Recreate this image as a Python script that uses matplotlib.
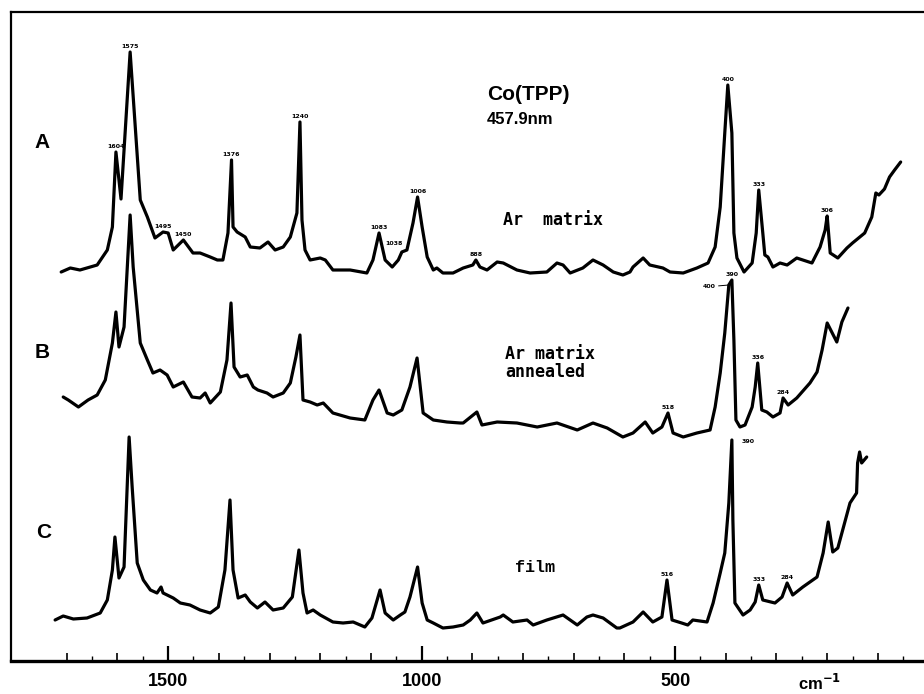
import numpy as np
import matplotlib.pyplot as plt

# --- spectrum A : Ar matrix ---
wn_a = [1711, 1693, 1674, 1640, 1620, 1610, 1603, 1593, 1575, 1555, 1541, 1526, 1510,
        1500, 1490, 1470, 1451, 1437, 1417, 1403, 1392, 1382, 1375, 1372, 1364, 1348,
        1338, 1319, 1303, 1289, 1273, 1259, 1246, 1240, 1236, 1230, 1220, 1200, 1190,
        1175, 1141, 1108, 1096, 1084, 1072, 1058, 1046, 1039, 1029, 1017, 1008, 999,
        989, 977, 970, 958, 938, 918, 899, 893, 885, 871, 851, 839, 812, 786, 753, 733,
        721, 707, 682, 662, 642, 622, 603, 589, 583, 563, 550, 524, 510, 484, 457, 435,
        421, 411, 402, 396, 388, 384, 378, 364, 348, 340, 335, 327, 323, 317, 307, 293,
        279, 260, 248, 230, 214, 204, 200, 194, 179, 161, 150, 126, 112, 104, 98, 87,
        77, 67, 55]
int_a = [389, 393, 391, 396, 411, 434, 509, 462, 609, 461, 444, 423, 429,
         428, 411, 421, 408, 408, 404, 401, 401, 428, 501, 434, 429, 424,
         414, 413, 419, 411, 414, 424, 448, 539, 441, 411, 401, 403, 401,
         391, 391, 388, 401, 428, 401, 394, 401, 409, 411, 438, 464, 434,
         404, 391, 393, 388, 388, 393, 396, 401, 394, 391, 399, 398, 391, 388, 389, 398,
         396, 388, 393, 401, 396, 389, 386, 389, 394, 403, 396, 393, 389, 388, 393, 398,
         414, 454, 528, 576, 528, 428, 403, 389, 398, 428, 471, 428, 406, 404, 394, 398,
         396, 403, 401, 398, 414, 431, 445, 408, 403, 413, 418, 428, 444, 468, 466, 472,
         484, 491, 499]

# --- spectrum B : Ar matrix annealed ---
wn_b = [1707, 1697, 1677, 1658, 1640, 1624, 1610, 1603, 1597, 1587, 1575, 1569, 1555,
        1541, 1530, 1516, 1502, 1490, 1470, 1453, 1437, 1427, 1417, 1397, 1384, 1376,
        1370, 1358, 1344, 1332, 1323, 1305, 1293, 1273, 1259, 1248, 1240, 1234, 1220,
        1206, 1194, 1175, 1141, 1112, 1096, 1084, 1068, 1056, 1039, 1023, 1009, 997,
        977, 950, 924, 918, 891, 881, 851, 812, 772, 733, 693, 662, 634, 603, 583, 559,
        544, 526, 514, 504, 484, 457, 431, 421, 411, 402, 394, 388, 384, 380, 372, 362,
        348, 342, 337, 329, 319, 307, 293, 287, 277, 260, 234, 220, 210, 200, 181, 171,
        159]
int_b = [264, 261, 254, 261, 266, 281, 318, 349, 314, 334, 446, 394, 318,
         301, 288, 291, 286, 274, 279, 264, 263, 268, 258, 269, 301, 358,
         294, 284, 286, 274, 271, 268, 264, 268, 278, 304, 326, 261, 259,
         256, 258, 248, 243, 241, 261, 271, 248, 246, 251, 274, 303, 248,
         241, 239, 238, 238, 249, 236, 239, 238, 234, 238, 231, 238, 233, 224, 228, 239,
         228, 234, 248, 228, 224, 228, 231, 254, 288, 328, 376, 381, 321, 241, 234, 236,
         254, 274, 298, 251, 249, 244, 248, 263, 256, 263, 278, 289, 311, 338, 319, 339,
         353]

# --- spectrum C : film ---
wn_c = [1723, 1707, 1687, 1660, 1634, 1620, 1610, 1605, 1597, 1587, 1577, 1571, 1561,
        1549, 1535, 1522, 1514, 1510, 1490, 1476, 1457, 1437, 1417, 1401, 1388, 1378,
        1372, 1362, 1348, 1338, 1324, 1309, 1293, 1273, 1255, 1242, 1234, 1226, 1214,
        1200, 1175, 1155, 1135, 1112, 1098, 1082, 1072, 1056, 1042, 1033, 1023, 1008,
        999, 989, 977, 958, 938, 918, 904, 891, 879, 845, 839, 820, 792, 780, 753, 721,
        693, 674, 662, 642, 615, 609, 583, 563, 544, 526, 516, 506, 487, 475, 465, 437,
        425, 411, 402, 394, 388, 386, 382, 366, 352, 342, 335, 327, 303, 289, 279, 268,
        248, 220, 208, 198, 189, 179, 155, 142, 140, 136, 132, 122]
int_c = [41, 45, 42, 43, 48, 61, 91, 124, 83, 94, 224, 174, 98,
         81, 71, 68, 74, 68, 63, 58, 56, 51, 48, 54, 91, 161,
         91, 63, 66, 59, 53, 59, 51, 53, 64, 111, 68, 48, 51,
         46, 39, 38, 39, 34, 43, 71, 48, 41, 46, 49, 64, 94,
         58, 41, 38, 33, 34, 36, 41, 48, 38, 44, 46, 39, 41, 36, 41, 46,
         36, 44, 46, 43, 33, 33, 39, 49, 39, 44, 81, 41, 38, 36, 41, 39,
         58, 88, 108, 158, 221, 141, 58, 46, 51, 59, 76, 61, 58, 64, 78, 66,
         74, 84, 108, 139, 109, 113, 158, 168, 198, 209, 198, 204]

# peak labels (text, wavenumber of the peak)
peaks_a = [('1604', 1603), ('1575', 1575), ('1495', 1510), ('1450', 1470), ('1376', 1375),
           ('1240', 1240), ('1083', 1084), ('1006', 1008), ('888', 893), ('400', 396),
           ('333', 335), ('306', 200)]
peaks_b = [('518', 514), ('390', 388), ('336', 337), ('284', 287)]
peaks_c = [('516', 516), ('333', 335), ('284', 279)]

fig = plt.figure(figsize=(9.24, 6.94), dpi=100)
ax = fig.add_axes([11 / 924, 33 / 694, 913 / 924, 649 / 694])

for wn, it in [(wn_a, int_a), (wn_b, int_b), (wn_c, int_c)]:
    ax.plot(wn, it, color='black', lw=2.3, solid_joinstyle='round', solid_capstyle='round')

def peak_y(wn, it, x):
    return np.interp(x, wn[::-1], it[::-1])

lab_font = dict(fontsize=4.5, fontweight='bold', ha='center', va='bottom', family='DejaVu Sans')
for peaks, wn, it in [(peaks_a, wn_a, int_a), (peaks_b, wn_b, int_b), (peaks_c, wn_c, int_c)]:
    for txt, x in peaks:
        ax.annotate(txt, (x, peak_y(wn, it, x)), xytext=(0, 2.5), textcoords='offset points', **lab_font)
# extra labels placed beside their peaks
ax.annotate('1038', (1039, 409), xytext=(-6, 4), textcoords='offset points', **lab_font)
ax.annotate('400', (394, 376), xytext=(-14, -3), textcoords='offset points',
            arrowprops=dict(arrowstyle='-', lw=0.7, color='black', shrinkA=0, shrinkB=0), **lab_font)
ax.annotate('390', (388, 221), xytext=(12, -3), textcoords='offset points', **lab_font)

ax.set_xlim(1810, 9)
ax.set_ylim(0, 649)

# spectrum letters and sample descriptions
big = dict(fontsize=15, fontweight='bold', family='Liberation Sans', ha='center', va='center')
ax.text(1748, 519, 'A', **big)
ax.text(1748, 309, 'B', **big)
ax.text(1746, 129, 'C', **big)
ax.text(871, 566, 'Co(TPP)', fontsize=15, fontweight='bold', family='Liberation Sans',
        ha='left', va='center')
ax.text(871, 541, '457.9nm', fontsize=12, fontweight='bold', family='Liberation Sans',
        ha='left', va='center')
mono = dict(fontsize=12, fontweight='bold', family='DejaVu Sans Mono', ha='left', va='center')
ax.text(839, 441, 'Ar  matrix', **mono)
ax.text(835, 298, 'Ar matrix\nannealed', linespacing=1.0, **mono)
ax.text(816, 94, 'film', fontsize=12, fontweight='bold', family='Liberation Mono', ha='left', va='center')

# axis: three tick sizes pointing into the plot
ax.set_xticks([1500, 1000, 500])
ax.set_xticklabels(['1500', '1000', '500'], fontsize=13, fontweight='bold', family='Liberation Sans')
ax.set_xticks(np.arange(100, 1800, 100), minor=True)
ax.tick_params(axis='x', which='major', direction='in', length=11, width=1.6, pad=9)
ax.tick_params(axis='x', which='minor', direction='in', length=6, width=1.2)
ax.set_yticks([])
sec = ax.secondary_xaxis('bottom')
sec.set_xticks(np.arange(50, 1750, 100))
sec.set_xticklabels([])
sec.tick_params(direction='in', length=3.5, width=1.0)
sec.spines['bottom'].set_visible(False)

ax.spines['right'].set_visible(False)
ax.spines['left'].set_linewidth(1.6)
ax.spines['top'].set_linewidth(1.6)
ax.spines['bottom'].set_linewidth(2.4)

fig.text(820 / 924, 1 - 683 / 694, r'cm$^{\mathbf{-1}}$', fontsize=12, fontweight='bold',
         family='Liberation Sans', ha='center', va='center')

fig.savefig('out.png', dpi=100)
